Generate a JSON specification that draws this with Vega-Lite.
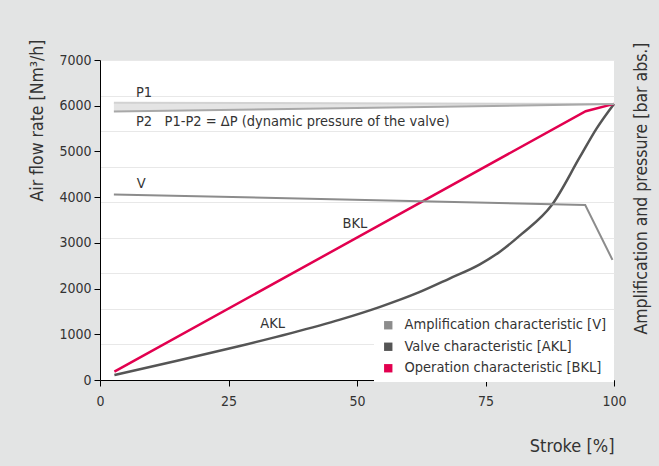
{
  "$schema": "https://vega.github.io/schema/vega-lite/v6.json",
  "width": 514,
  "height": 320,
  "autosize": {"type": "none"},
  "padding": {"left": 100, "top": 60, "right": 45, "bottom": 86},
  "background": "#e3e4e4",
  "config": {
    "view": {"fill": "white", "stroke": null},
    "font": "Liberation Sans Narrow, DejaVu Sans Condensed, sans-serif",
    "axis": {"labelColor": "#333333", "titleColor": "#333333", "titleFontWeight": "normal", "labelFontSize": 14, "titleFontSize": 17.5}
  },
  "datasets": {
    "flow": [
      {"stroke": 2.8, "flow": 182, "series": "Operation characteristic [BKL]"},
      {"stroke": 94.5, "flow": 5880, "series": "Operation characteristic [BKL]"},
      {"stroke": 100, "flow": 6040, "series": "Operation characteristic [BKL]"},
      {"stroke": 2.8, "flow": 110, "series": "Valve characteristic [AKL]"},
      {"stroke": 15, "flow": 420, "series": "Valve characteristic [AKL]"},
      {"stroke": 27.2, "flow": 744, "series": "Valve characteristic [AKL]"},
      {"stroke": 37, "flow": 1020, "series": "Valve characteristic [AKL]"},
      {"stroke": 46.7, "flow": 1320, "series": "Valve characteristic [AKL]"},
      {"stroke": 54.5, "flow": 1600, "series": "Valve characteristic [AKL]"},
      {"stroke": 62, "flow": 1915, "series": "Valve characteristic [AKL]"},
      {"stroke": 68, "flow": 2220, "series": "Valve characteristic [AKL]"},
      {"stroke": 73.9, "flow": 2530, "series": "Valve characteristic [AKL]"},
      {"stroke": 77.8, "flow": 2807, "series": "Valve characteristic [AKL]"},
      {"stroke": 82, "flow": 3190, "series": "Valve characteristic [AKL]"},
      {"stroke": 87.9, "flow": 3828, "series": "Valve characteristic [AKL]"},
      {"stroke": 93.4, "flow": 4885, "series": "Valve characteristic [AKL]"},
      {"stroke": 96.6, "flow": 5500, "series": "Valve characteristic [AKL]"},
      {"stroke": 100, "flow": 6040, "series": "Valve characteristic [AKL]"}
    ],
    "amp": [
      {"stroke": 2.7, "value": 5.22, "series": "Amplification characteristic [V]"},
      {"stroke": 94.4, "value": 4.92, "series": "Amplification characteristic [V]"},
      {"stroke": 99.7, "value": 3.38, "series": "Amplification characteristic [V]"}
    ],
    "pressure": [
      {"stroke": 2.7, "p1": 7.8, "p2": 7.55},
      {"stroke": 100, "p1": 7.76, "p2": 7.76}
    ],
    "labels": [
      {"stroke": 7.0, "flow": 6278, "text": "P1", "align": "left"},
      {"stroke": 7.0, "flow": 5640, "text": "P2\u00a0\u00a0\u00a0P1-P2 = ΔP (dynamic pressure of the valve)", "align": "left"},
      {"stroke": 8.0, "flow": 4288, "text": "V", "align": "center"},
      {"stroke": 49.6, "flow": 3417, "text": "BKL", "align": "center"},
      {"stroke": 33.6, "flow": 1220, "text": "AKL", "align": "center"}
    ]
  },
  "layer": [
    {
      "data": {"name": "flow"},
      "encoding": {
        "x": {
          "field": "stroke", "type": "quantitative",
          "scale": {"domain": [0, 100], "nice": false, "zero": true},
          "axis": {
            "values": [0, 25, 50, 75, 100], "grid": false, "tickSize": 6, "labelPadding": 8, "labelFlush": false,
            "domainColor": "#000000", "tickColor": "#000000",
            "title": "Stroke [%]", "titleAnchor": "end", "titleAlign": "right", "titleBaseline": "middle",
            "titleX": 514, "titleY": 66, "titleFontSize": 18
          }
        },
        "y": {
          "field": "flow", "type": "quantitative",
          "scale": {"domain": [0, 7000], "nice": false},
          "axis": {
            "orient": "left", "values": [0, 1000, 2000, 3000, 4000, 5000, 6000, 7000], "format": "d", "grid": false,
            "tickSize": 6, "labelPadding": 3, "domainColor": "#000000", "tickColor": "#000000",
            "title": "Air flow rate [Nm³/h]", "titleAngle": -90, "titleAlign": "right", "titleBaseline": "middle",
            "titleX": -63, "titleY": -21
          }
        }
      },
      "layer": [
        {
          "transform": [{"filter": "datum.series === 'Valve characteristic [AKL]'"}],
          "mark": {"type": "line", "interpolate": "monotone", "strokeWidth": 2.5},
          "encoding": {
            "color": {
              "field": "series", "type": "nominal",
              "scale": {"domain": ["Amplification characteristic [V]", "Valve characteristic [AKL]", "Operation characteristic [BKL]"], "range": ["#8c8c8c", "#555555", "#e2004f"]},
              "legend": {
                "orient": "none", "legendX": 274, "legendY": 251, "title": null,
                "fillColor": "white", "padding": 7, "symbolType": "square", "symbolSize": 70,
                "labelFontSize": 14.5, "labelColor": "#333333", "labelOffset": 9, "rowPadding": 6.5, "labelLimit": 400,
                "encode": {"symbols": {"update": {"fill": {"scale": "color", "field": "value"}, "stroke": {"value": "transparent"}, "strokeWidth": {"value": 0}}}}
              }
            }
          }
        },
        {
          "transform": [{"filter": "datum.series === 'Operation characteristic [BKL]'"}],
          "mark": {"type": "line", "strokeWidth": 2.5},
          "encoding": {
            "color": {"field": "series", "type": "nominal"}
          }
        },
        {
          "data": {"name": "labels"},
          "transform": [{"filter": "datum.align === 'left'"}],
          "mark": {"type": "text", "fontSize": 14.5, "color": "#333333", "baseline": "middle", "align": "left"},
          "encoding": {"text": {"field": "text"}}
        },
        {
          "data": {"name": "labels"},
          "transform": [{"filter": "datum.align === 'center'"}],
          "mark": {"type": "text", "fontSize": 14.5, "color": "#333333", "baseline": "middle", "align": "center"},
          "encoding": {"text": {"field": "text"}}
        }
      ]
    },
    {
      "encoding": {
        "x": {"field": "stroke", "type": "quantitative"},
        "y": {
          "type": "quantitative",
          "scale": {"domain": [0, 9], "nice": false},
          "axis": {
            "orient": "right", "values": [0, 1, 2, 3, 4, 5, 6, 7, 8, 9], "grid": true, "gridColor": "#e8e8e8",
            "labels": false, "ticks": false, "domain": false,
            "title": "Amplification and pressure [bar abs.]", "titleAngle": -90, "titleAlign": "right", "titleBaseline": "middle",
            "titleX": 27, "titleY": -18
          }
        }
      },
      "layer": [
        {
          "data": {"name": "pressure"},
          "mark": {"type": "area", "color": "#e4e4e4"},
          "encoding": {"y": {"field": "p2", "type": "quantitative"}, "y2": {"field": "p1"}}
        },
        {
          "data": {"name": "pressure"},
          "mark": {"type": "line", "color": "#d2d2d2", "strokeWidth": 2},
          "encoding": {"y": {"field": "p1", "type": "quantitative"}}
        },
        {
          "data": {"name": "pressure"},
          "mark": {"type": "line", "color": "#a8a8a8", "strokeWidth": 2},
          "encoding": {"y": {"field": "p2", "type": "quantitative"}}
        },
        {
          "data": {"name": "amp"},
          "mark": {"type": "line", "strokeWidth": 2},
          "encoding": {
            "y": {"field": "value", "type": "quantitative"},
            "color": {"field": "series", "type": "nominal"}
          }
        }
      ]
    }
  ],
  "resolve": {"scale": {"y": "independent"}}
}
